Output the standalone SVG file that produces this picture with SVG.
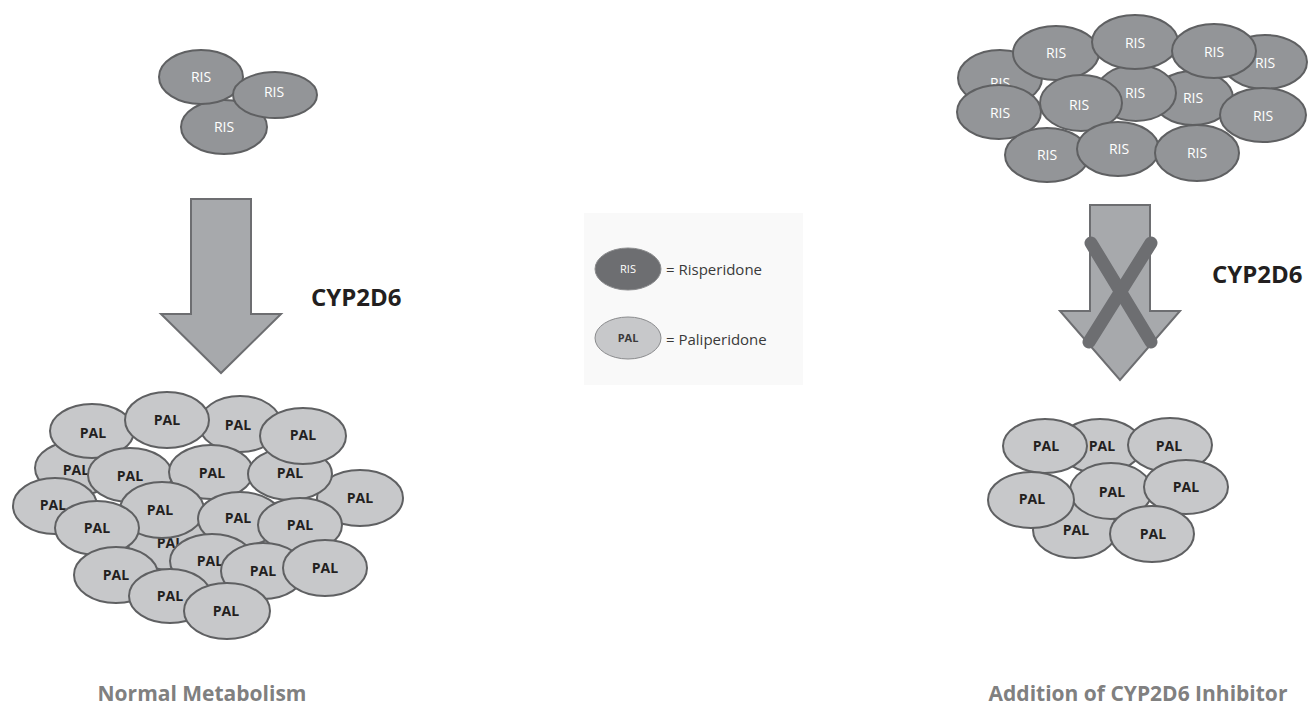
<svg xmlns="http://www.w3.org/2000/svg" width="1311" height="709" viewBox="0 0 1311 709">
<style>
.ris{fill:#939598;stroke:#5f6062;stroke-width:2}
.pal{fill:#c7c8ca;stroke:#5f6062;stroke-width:2}
.rt{font-family:"Open Sans","Liberation Sans",sans-serif;font-size:14px;fill:#ffffff;text-anchor:middle}
.pt{font-family:"Open Sans","Liberation Sans",sans-serif;font-size:14px;font-weight:bold;fill:#231f20;text-anchor:middle}
.arrow{fill:#a7a9ac;stroke:#6d6e71;stroke-width:2}
.cyp{font-family:"Open Sans","Liberation Sans",sans-serif;font-size:24px;font-weight:bold;fill:#231f20}
.cap{font-family:"Open Sans","Liberation Sans",sans-serif;font-size:21px;font-weight:bold;fill:#808080;text-anchor:middle}
.leg{font-family:"Open Sans","Liberation Sans",sans-serif;font-size:15px;fill:#3a3a3a}
</style>
<rect width="1311" height="709" fill="#ffffff"/>

<g id="ris-left">
<ellipse class="ris" cx="224" cy="127" rx="43" ry="27"/><text class="rt" x="224" y="132">RIS</text>
<ellipse class="ris" cx="201" cy="77" rx="42" ry="27"/><text class="rt" x="201" y="82">RIS</text>
<ellipse class="ris" cx="275" cy="95" rx="42" ry="23"/><text class="rt" x="274" y="97">RIS</text>
</g>

<g id="arrow-left">
<polygon class="arrow" points="191,199 251,199 251,314 281,314 221,373 161,314 191,314"/>
<text class="cyp" x="311" y="306">CYP2D6</text>
</g>

<g id="pal-left">
<ellipse class="pal" cx="77" cy="468" rx="42" ry="27"/><text class="pt" x="76" y="475">PAL</text>
<ellipse class="pal" cx="170" cy="543" rx="42" ry="27"/><text class="pt" x="170" y="548">PAL</text>
<ellipse class="pal" cx="92" cy="431" rx="42" ry="27"/><text class="pt" x="93" y="438">PAL</text>
<ellipse class="pal" cx="240" cy="424" rx="41" ry="28"/><text class="pt" x="238" y="430">PAL</text>
<ellipse class="pal" cx="167" cy="420" rx="42" ry="28"/><text class="pt" x="167" y="425">PAL</text>
<ellipse class="pal" cx="130" cy="475" rx="42" ry="27"/><text class="pt" x="130" y="481">PAL</text>
<ellipse class="pal" cx="211" cy="472" rx="42" ry="27"/><text class="pt" x="212" y="478">PAL</text>
<ellipse class="pal" cx="360" cy="498" rx="43" ry="28"/><text class="pt" x="360" y="503">PAL</text>
<ellipse class="pal" cx="290" cy="474" rx="42" ry="26"/><text class="pt" x="290" y="478">PAL</text>
<ellipse class="pal" cx="303" cy="436" rx="43" ry="28"/><text class="pt" x="303" y="440">PAL</text>
<ellipse class="pal" cx="55" cy="506" rx="42" ry="28"/><text class="pt" x="53" y="510">PAL</text>
<ellipse class="pal" cx="162" cy="510" rx="42" ry="28"/><text class="pt" x="160" y="515">PAL</text>
<ellipse class="pal" cx="97" cy="528" rx="42" ry="27"/><text class="pt" x="97" y="533">PAL</text>
<ellipse class="pal" cx="240" cy="519" rx="42" ry="27"/><text class="pt" x="238" y="523">PAL</text>
<ellipse class="pal" cx="300" cy="525" rx="42" ry="27"/><text class="pt" x="300" y="530">PAL</text>
<ellipse class="pal" cx="212" cy="561" rx="42" ry="27"/><text class="pt" x="210" y="566">PAL</text>
<ellipse class="pal" cx="263" cy="571" rx="42" ry="28"/><text class="pt" x="263" y="576">PAL</text>
<ellipse class="pal" cx="325" cy="568" rx="42" ry="28"/><text class="pt" x="325" y="573">PAL</text>
<ellipse class="pal" cx="116" cy="575" rx="42" ry="28"/><text class="pt" x="116" y="580">PAL</text>
<ellipse class="pal" cx="170" cy="596" rx="41" ry="27"/><text class="pt" x="170" y="601">PAL</text>
<ellipse class="pal" cx="227" cy="611" rx="43" ry="28"/><text class="pt" x="226" y="616">PAL</text>
</g>

<g id="legend">
<rect x="584" y="213" width="219" height="172" fill="#f9f9f9"/>
<ellipse cx="628" cy="269" rx="33" ry="21" fill="#6d6e71" stroke="#8a8b8d" stroke-width="1"/>
<text x="628" y="273" font-family="Open Sans, Liberation Sans, sans-serif" font-size="11" fill="#ffffff" text-anchor="middle">RIS</text>
<text class="leg" x="666" y="275">= Risperidone</text>
<ellipse cx="628" cy="338" rx="33" ry="21" fill="#c7c8ca" stroke="#8a8b8d" stroke-width="1"/>
<text x="628" y="342" font-family="Open Sans, Liberation Sans, sans-serif" font-size="11" font-weight="bold" fill="#3a3a3a" text-anchor="middle">PAL</text>
<text class="leg" x="666" y="345">= Paliperidone</text>
</g>

<g id="ris-right">
<ellipse class="ris" cx="1000" cy="78" rx="42" ry="28"/><text class="rt" x="1000" y="88">RIS</text>
<ellipse class="ris" cx="1265" cy="62" rx="42" ry="27"/><text class="rt" x="1265" y="68">RIS</text>
<ellipse class="ris" cx="1193" cy="98" rx="40" ry="27"/><text class="rt" x="1193" y="103">RIS</text>
<ellipse class="ris" cx="1136" cy="93" rx="40" ry="28"/><text class="rt" x="1135" y="98">RIS</text>
<ellipse class="ris" cx="1056" cy="53" rx="43" ry="27"/><text class="rt" x="1056" y="58">RIS</text>
<ellipse class="ris" cx="1135" cy="42" rx="43" ry="27"/><text class="rt" x="1135" y="48">RIS</text>
<ellipse class="ris" cx="1214" cy="51" rx="42" ry="27"/><text class="rt" x="1214" y="57">RIS</text>
<ellipse class="ris" cx="1263" cy="115" rx="43" ry="27"/><text class="rt" x="1263" y="121">RIS</text>
<ellipse class="ris" cx="999" cy="112" rx="42" ry="27"/><text class="rt" x="1000" y="118">RIS</text>
<ellipse class="ris" cx="1081" cy="103" rx="41" ry="28"/><text class="rt" x="1079" y="110">RIS</text>
<ellipse class="ris" cx="1047" cy="155" rx="42" ry="27"/><text class="rt" x="1047" y="160">RIS</text>
<ellipse class="ris" cx="1118" cy="149" rx="41" ry="27"/><text class="rt" x="1119" y="154">RIS</text>
<ellipse class="ris" cx="1197" cy="153" rx="42" ry="28"/><text class="rt" x="1197" y="158">RIS</text>
</g>

<g id="arrow-right">
<polygon class="arrow" points="1090,205 1150,205 1150,311 1180,311 1120,380 1060,311 1090,311"/>
<g stroke="#6d6e71" stroke-width="13" stroke-linecap="round">
<line x1="1091" y1="243" x2="1151" y2="342"/>
<line x1="1151" y1="243" x2="1089" y2="342"/>
</g>
<text class="cyp" x="1212" y="283">CYP2D6</text>
</g>

<g id="pal-right">
<ellipse class="pal" cx="1100" cy="446" rx="42" ry="27"/><text class="pt" x="1102" y="451">PAL</text>
<ellipse class="pal" cx="1045" cy="446" rx="42" ry="27"/><text class="pt" x="1046" y="451">PAL</text>
<ellipse class="pal" cx="1170" cy="445" rx="42" ry="27"/><text class="pt" x="1169" y="451">PAL</text>
<ellipse class="pal" cx="1075" cy="530" rx="42" ry="28"/><text class="pt" x="1076" y="535">PAL</text>
<ellipse class="pal" cx="1111" cy="491" rx="41" ry="28"/><text class="pt" x="1112" y="497">PAL</text>
<ellipse class="pal" cx="1186" cy="487" rx="42" ry="27"/><text class="pt" x="1186" y="492">PAL</text>
<ellipse class="pal" cx="1031" cy="500" rx="43" ry="28"/><text class="pt" x="1032" y="504">PAL</text>
<ellipse class="pal" cx="1152" cy="534" rx="42" ry="28"/><text class="pt" x="1153" y="539">PAL</text>
</g>

<g id="captions">
<text class="cap" x="202" y="701">Normal Metabolism</text>
<text class="cap" x="1138" y="701">Addition of CYP2D6 Inhibitor</text>
</g>
</svg>
